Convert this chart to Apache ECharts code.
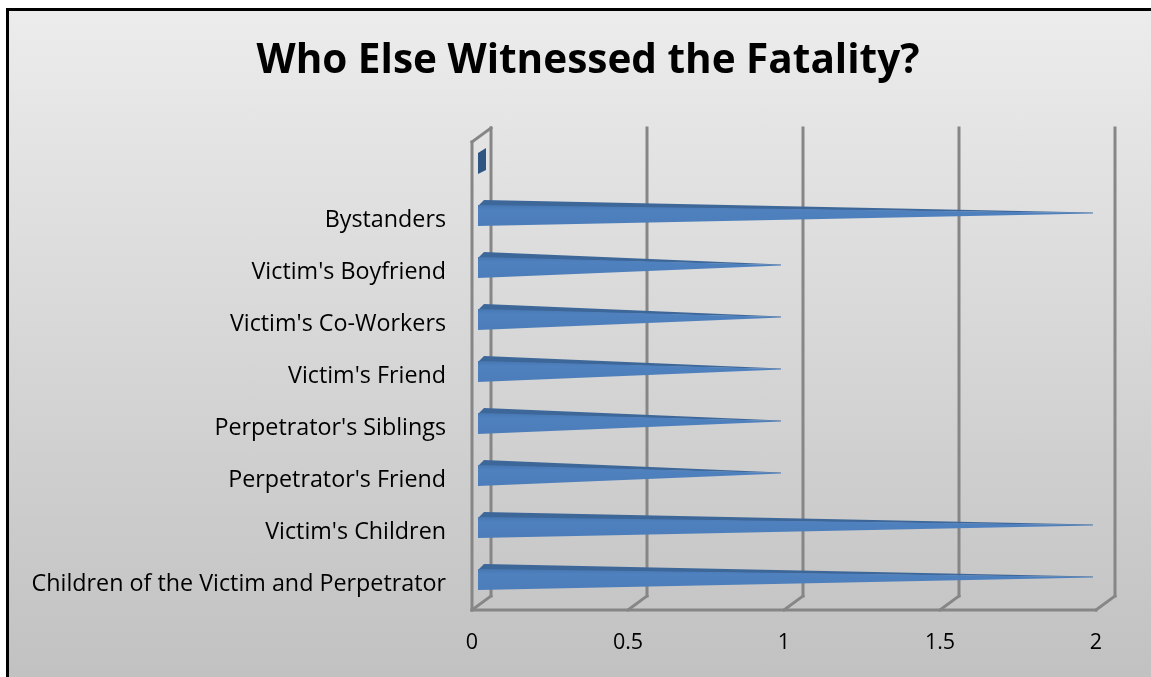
<!DOCTYPE html>
<html>
<head>
<meta charset="utf-8">
<script src="https://cdn.jsdelivr.net/npm/echarts@6/dist/echarts.min.js"></script>
<style>
  html, body { margin: 0; padding: 0; background: #ffffff; overflow: hidden; }
  #panel {
    position: absolute;
    left: 6px;
    top: 8px;
    width: 1300px;
    height: 800px;
    border-left: 3px solid #000000;
    border-top: 3px solid #000000;
    background: linear-gradient(to bottom, #ececec 0px, #c1c1c1 670px);
  }
  #chart { position: absolute; left: 0; top: 0; width: 1151px; height: 677px; }
</style>
</head>
<body>
<div id="panel"></div>
<div id="chart"></div>
<script>
// Witness categories, listed top to bottom (the first row is an empty slot)
const categories = [
  '',
  'Bystanders',
  "Victim's Boyfriend",
  "Victim's Co-Workers",
  "Victim's Friend",
  "Perpetrator's Siblings",
  "Perpetrator's Friend",
  "Victim's Children",
  'Children of the Victim and Perpetrator'
];
const counts = [0, 2, 1, 1, 1, 1, 1, 2, 2];
const xTicks = [0, 0.5, 1, 1.5, 2];
const titleText = 'Who Else Witnessed the Fatality?';

// depth offset of the back wall relative to the front plane
const DEPTH_X = 19;
const DEPTH_Y = -14;
const FRAME_COLOR = '#868686';
const LABEL_FONT = '"Open Sans", "Noto Sans", sans-serif';

const chart = echarts.init(document.getElementById('chart'), null, { renderer: 'canvas' });

function lineShape(x1, y1, x2, y2) {
  return {
    type: 'line',
    shape: { x1: x1, y1: y1, x2: x2, y2: y2 },
    style: { stroke: FRAME_COLOR, lineWidth: 3, lineCap: 'square' }
  };
}

// back-wall gridlines, floor diagonals and the side wall edges
function renderFrame(params, api) {
  const cs = params.coordSys;
  const v = api.value(0);
  const x = api.coord([v, 0])[0];
  const top = cs.y;
  const bottom = cs.y + cs.height;
  const children = [
    lineShape(x + DEPTH_X, top + DEPTH_Y, x + DEPTH_X, bottom + DEPTH_Y),
    lineShape(x, bottom, x + DEPTH_X, bottom + DEPTH_Y)
  ];
  if (v === 0) {
    children.push(lineShape(x, top, x, bottom));
    children.push(lineShape(x, top, x + DEPTH_X, top + DEPTH_Y));
    children.push(lineShape(x, bottom, cs.x + cs.width, bottom));
  }
  return { type: 'group', children: children };
}

// horizontal cones: a lit front face, a darker upper face, and the base face for empty rows
function renderCone(params, api) {
  const v = api.value(0);
  const idx = api.value(1);
  const base = api.coord([0, idx]);
  const tip = api.coord([v, idx]);
  const yc = base[1];
  const x0 = base[0] + 6;
  if (v <= 0) {
    return {
      type: 'polygon',
      shape: { points: [[x0, yc - 15], [x0 + 8, yc - 20], [x0 + 8, yc + 2], [x0, yc + 6]] },
      style: { fill: '#2f5583' }
    };
  }
  const tipX = tip[0] - 3;
  const tipY = yc - 7;
  return {
    type: 'group',
    children: [
      {
        type: 'polygon',
        shape: { points: [[x0, yc - 14], [x0 + 6, yc - 20], [tipX, tipY - 0.6], [tipX, tipY]] },
        style: { fill: '#3e6799' }
      },
      {
        type: 'polygon',
        shape: { points: [[x0, yc - 15], [x0, yc + 6], [tipX, tipY + 0.6], [tipX, tipY]] },
        style: {
          fill: new echarts.graphic.LinearGradient(0, 0, 0, 1, [
            { offset: 0, color: '#4677b2' },
            { offset: 0.25, color: '#4f81bf' },
            { offset: 1, color: '#4c7dba' }
          ])
        }
      }
    ]
  };
}

chart.setOption({
  animation: false,
  title: {
    text: titleText,
    left: 583,
    top: 36,
    textAlign: 'center',
    textStyle: {
      fontFamily: '"Open Sans", sans-serif',
      fontWeight: 'bold',
      fontSize: 40.5,
      color: '#000000'
    }
  },
  grid: { left: 472, right: 55, top: 142, bottom: 67, containLabel: false },
  xAxis: {
    type: 'value',
    min: 0,
    max: 2,
    interval: 0.5,
    axisLine: { show: false },
    axisTick: { show: false },
    splitLine: { show: false },
    axisLabel: {
      margin: 22,
      fontSize: 21.5,
      fontFamily: LABEL_FONT,
      color: '#000000'
    }
  },
  yAxis: {
    type: 'category',
    data: categories,
    inverse: true,
    axisLine: { show: false },
    axisTick: { show: false },
    splitLine: { show: false },
    axisLabel: {
      margin: 26,
      fontSize: 23.3,
      padding: [9, 0, 0, 0],
      fontFamily: LABEL_FONT,
      color: '#000000'
    }
  },
  series: [
    {
      type: 'custom',
      name: 'frame',
      z: 1,
      silent: true,
      renderItem: renderFrame,
      data: xTicks.map(function (t) { return [t]; }),
      encode: { x: 0 }
    },
    {
      type: 'custom',
      name: 'Witnesses',
      z: 2,
      renderItem: renderCone,
      data: counts.map(function (c, i) { return [c, i]; }),
      encode: { x: 0, y: 1 }
    }
  ]
});
</script>
</body>
</html>
